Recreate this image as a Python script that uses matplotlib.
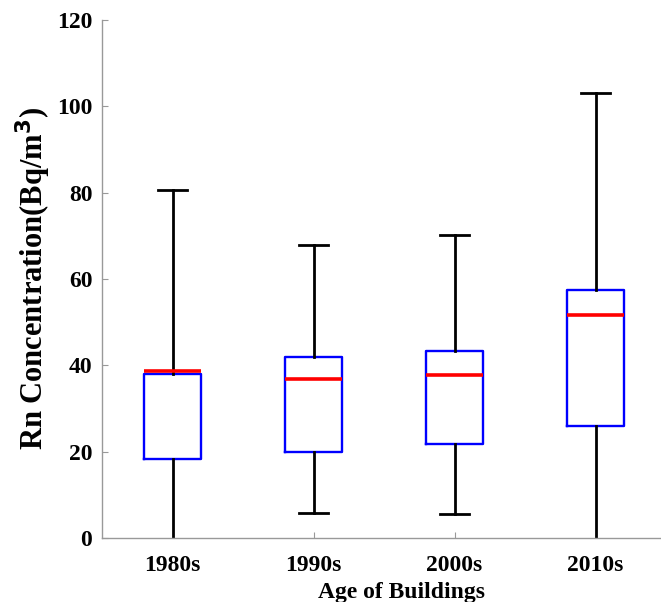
import matplotlib
matplotlib.use("Agg")
import matplotlib.pyplot as plt

# decade groups and box statistics
decades = ["1980s", "1990s", "2000s", "2010s"]
whisker_low = [0.0, 5.8, 5.5, 0.0]
q1 = [18.3, 20.0, 21.8, 25.9]
median = [38.8, 36.8, 37.8, 51.6]
q3 = [38.0, 42.0, 43.3, 57.4]
whisker_high = [80.6, 67.9, 70.3, 103.2]

plt.rcParams['font.family'] = ['Liberation Serif', 'DejaVu Serif']
plt.rcParams['font.weight'] = 'bold'

fig = plt.figure(figsize=(6.61, 6.02), dpi=100)
ax = fig.add_axes([102 / 661, 64 / 602, (661 - 102) / 661, (538 - 20) / 602])

stats = []
for i in range(len(decades)):
    stats.append({
        'label': decades[i],
        'whislo': whisker_low[i],
        'q1': q1[i],
        'med': median[i],
        'q3': q3[i],
        'whishi': whisker_high[i],
        'fliers': [],
    })

bp = ax.bxp(stats, positions=[1, 2, 3, 4], widths=0.4, showfliers=False,
            boxprops=dict(color='#0000ff', linewidth=1.7),
            medianprops=dict(color='#ff0000', linewidth=2.6),
            whiskerprops=dict(color='black', linewidth=2.0),
            capprops=dict(color='black', linewidth=2.0),
            capwidths=0.2)

# caps sitting on the x axis are hidden in the original
for cap in bp['caps']:
    if cap.get_ydata()[0] == 0:
        cap.set_visible(False)

ax.set_xlim(0.5, 0.5 + (661 - 102) / 141)
ax.set_ylim(0, 120)
ax.set_yticks([0, 20, 40, 60, 80, 100, 120])
ax.set_xticks([1, 2, 3, 4])
ax.set_xticklabels(decades)

for s in ['top', 'right']:
    ax.spines[s].set_visible(False)
for s in ['left', 'bottom']:
    ax.spines[s].set_color('#999999')
    ax.spines[s].set_linewidth(1.0)

ax.tick_params(direction='in', length=4, color='#999999', labelsize=17)
ax.tick_params(axis='y', pad=7)
ax.tick_params(axis='x', pad=12)
for lab in ax.get_xticklabels() + ax.get_yticklabels():
    lab.set_fontweight('bold')

ax.set_ylabel('Rn Concentration(Bq/m$^{\\mathbf{3}}$)', fontsize=22, fontweight='bold')
ax.yaxis.set_label_coords(-0.088, 0.5)
ax.set_xlabel('Age of Buildings', fontsize=17, fontweight='bold')
ax.xaxis.set_label_coords((401 - 102) / (661 - 102), -0.085)

fig.savefig('out.png', dpi=100)
